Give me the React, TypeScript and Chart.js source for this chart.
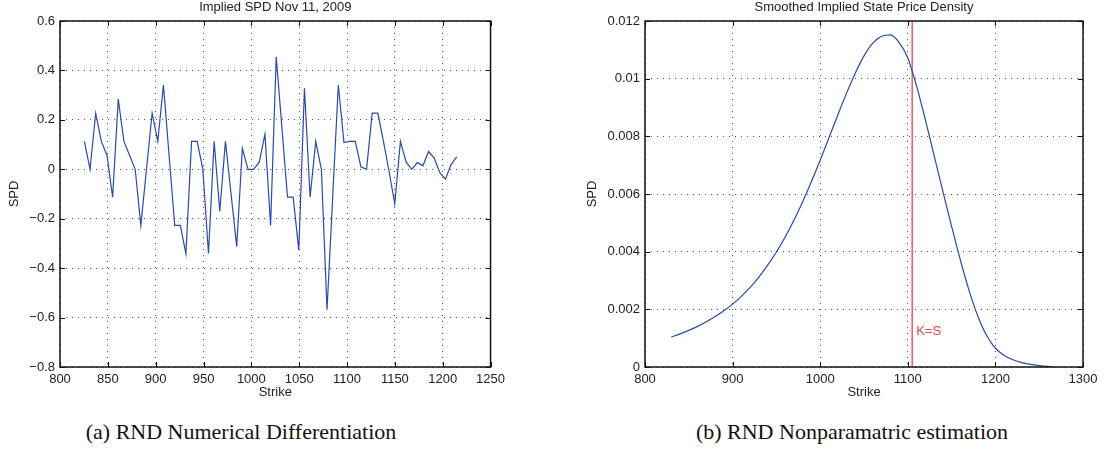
import React, { useEffect, useRef } from "react";
import { Chart, registerables } from "chart.js";

Chart.register(...registerables);

// ---------- data: left panel (numerical differentiation) ----------
const LEFT_TITLE = "Implied SPD Nov 11, 2009";
const LEFT_STRIKES = [
  825.5, 831.4, 837.3, 843.2, 849.1, 855.0, 860.9, 866.8, 872.7, 878.6,
  884.5, 890.4, 896.3, 902.2, 908.1, 914.0, 919.9, 925.8, 931.6, 937.5,
  943.4, 949.3, 955.2, 961.1, 967.0, 972.9, 978.8, 984.7, 990.6, 996.5,
  1002.4, 1008.3, 1014.2, 1020.1, 1026.0, 1031.9, 1037.8, 1043.7, 1049.6, 1055.5,
  1061.4, 1067.3, 1073.2, 1079.1, 1085.0, 1090.9, 1096.8, 1102.7, 1108.6, 1114.5,
  1120.4, 1126.3, 1132.2, 1138.1, 1144.0, 1149.9, 1155.8, 1161.7, 1167.5, 1173.4,
  1179.3, 1185.2, 1191.1, 1197.0, 1202.9, 1208.8, 1214.7,
];
const LEFT_SPD = [
  0.113, 0, 0.227, 0.113, 0.057, -0.113, 0.284, 0.113, 0.057, 0,
  -0.227, 0, 0.227, 0.113, 0.341, 0.057, -0.227, -0.227, -0.341, 0.113,
  0.113, 0, -0.341, 0.113, -0.17, 0.113, -0.1, -0.313, 0.085, 0,
  0, 0.03, 0.142, -0.227, 0.455, 0.17, -0.113, -0.113, -0.327, 0.328,
  -0.113, 0.113, 0, -0.568, -0.113, 0.341, 0.108, 0.113, 0.113, 0.01,
  0, 0.227, 0.227, 0.113, -0.01, -0.14, 0.113, 0.03, 0, 0.027,
  0.014, 0.072, 0.045, -0.014, -0.04, 0.02, 0.05,
];
const LEFT_X_RANGE = [800, 1250];
const LEFT_X_STEP = 50;
const LEFT_Y_RANGE = [-0.8, 0.6];
const LEFT_Y_STEP = 0.2;

// ---------- data: right panel (smoothed SPD) ----------
const RIGHT_TITLE = "Smoothed Implied State Price Density";
const RIGHT_STRIKES = [
  830, 840, 850, 860, 870, 880, 890, 900, 910, 920,
  930, 940, 950, 960, 970, 980, 990, 1000, 1010, 1020,
  1030, 1040, 1050, 1060, 1070, 1080, 1090, 1100, 1110, 1120,
  1130, 1140, 1150, 1160, 1170, 1180, 1190, 1200, 1210, 1220,
  1230, 1240, 1250, 1260, 1265,
];
const RIGHT_SPD = [
  0.00104, 0.00115, 0.00127, 0.00141, 0.00157, 0.00175, 0.00195, 0.00218, 0.00245, 0.00276,
  0.00312, 0.00353, 0.00399, 0.00451, 0.00509, 0.00573, 0.00643, 0.00717, 0.00795, 0.00873,
  0.00949, 0.01019, 0.01079, 0.01123, 0.01147, 0.01152, 0.01126, 0.01072, 0.00975, 0.00858,
  0.00734, 0.0061, 0.00488, 0.00371, 0.00265, 0.00176, 0.00109, 0.00065, 0.0004, 0.00025,
  0.00015, 0.00009, 0.00005, 0.00002, 0.00001,
];
const RIGHT_X_RANGE = [800, 1300];
const RIGHT_X_STEP = 100;
const RIGHT_Y_RANGE = [0, 0.012];
const RIGHT_Y_STEP = 0.002;
const K_EQUALS_S = 1105;
const K_LABEL = "K=S";
const K_LABEL_Y = 0.00122;

const X_LABEL = "Strike";
const Y_LABEL = "SPD";
const CAPTION_A = "(a) RND Numerical Differentiation";
const CAPTION_B = "(b) RND Nonparamatric estimation";

// ---------- style ----------
const FONT = "'Liberation Sans', Arial, sans-serif";
const BLUE = "#2a4aa8";
const RED = "#e8464c";
const TEXT = "#222";

const fmt = (v: number) => {
  const r = Math.round(v * 1e6) / 1e6;
  if (r === 0) return "0";
  return (r < 0 ? "\u2212" : "") + String(Math.abs(r));
};

const framePlugin = {
  id: "matlabFrame",
  afterDraw(chart: any, _args: any, opts: any) {
    const { ctx, chartArea } = chart;
    const { left, right, top, bottom } = chartArea;
    const xs = chart.scales.x;
    const ys = chart.scales.y;
    ctx.save();
    // inward tick marks
    ctx.strokeStyle = "#111";
    ctx.lineWidth = 1;
    ctx.beginPath();
    xs.ticks.forEach((t: any) => {
      const p = Math.round(xs.getPixelForValue(t.value)) + 0.5;
      ctx.moveTo(p, bottom);
      ctx.lineTo(p, bottom - 5);
      ctx.moveTo(p, top);
      ctx.lineTo(p, top + 5);
    });
    ys.ticks.forEach((t: any) => {
      const p = Math.round(ys.getPixelForValue(t.value)) + 0.5;
      ctx.moveTo(left, p);
      ctx.lineTo(left + 5, p);
      ctx.moveTo(right, p);
      ctx.lineTo(right - 5, p);
    });
    ctx.stroke();
    // frame
    ctx.lineWidth = 1.5;
    ctx.strokeStyle = "#111";
    ctx.strokeRect(left, top, right - left, bottom - top);
    // title
    ctx.fillStyle = TEXT;
    ctx.font = `13px ${FONT}`;
    ctx.textAlign = "center";
    ctx.textBaseline = "middle";
    ctx.fillText(opts.title, (left + right) / 2, 7);
    // K=S label
    if (opts.kx !== undefined) {
      ctx.fillStyle = RED;
      ctx.textAlign = "left";
      ctx.fillText(opts.klabel, xs.getPixelForValue(opts.kx) + 4, ys.getPixelForValue(opts.ky));
    }
    ctx.restore();
  },
};

function makeConfig(
  datasets: any[],
  xr: number[],
  xstep: number,
  yr: number[],
  ystep: number,
  yAxisW: number,
  padRight: number,
  yTitlePad: number,
  pluginOpts: any
) {
  return {
    type: "line",
    data: { datasets },
    plugins: [framePlugin],
    options: {
      responsive: false,
      animation: false,
      devicePixelRatio: 1,
      layout: { autoPadding: false, padding: { top: 21, left: 0, right: padRight, bottom: 0 } },
      plugins: {
        legend: { display: false },
        tooltip: { enabled: false },
        matlabFrame: pluginOpts,
      },
      elements: { point: { radius: 0 } },
      scales: {
        x: {
          type: "linear",
          min: xr[0],
          max: xr[1],
          afterFit: (s: any) => {
            s.height = 33;
          },
          ticks: {
            stepSize: xstep,
            padding: 5,
            color: TEXT,
            font: { family: FONT, size: 13 },
            maxRotation: 0,
            callback: (v: number) => fmt(v),
          },
          grid: { color: "rgba(0,0,0,0.65)", lineWidth: 1, drawTicks: false },
          border: { display: false, dash: [1, 5] },
          title: {
            display: true,
            text: X_LABEL,
            color: TEXT,
            font: { family: FONT, size: 13 },
            padding: { top: 0, bottom: 0 },
          },
        },
        y: {
          type: "linear",
          min: yr[0],
          max: yr[1],
          afterFit: (s: any) => {
            s.width = yAxisW;
          },
          ticks: {
            stepSize: ystep,
            padding: 5,
            color: TEXT,
            font: { family: FONT, size: 13 },
            callback: (v: number) => fmt(v),
          },
          grid: { color: "rgba(0,0,0,0.65)", lineWidth: 1, drawTicks: false },
          border: { display: false, dash: [1, 5] },
          title: {
            display: true,
            text: Y_LABEL,
            color: TEXT,
            font: { family: FONT, size: 13 },
            padding: { top: yTitlePad, bottom: 0 },
          },
        },
      },
    },
  };
}

function LeftChart() {
  const ref = useRef<HTMLCanvasElement>(null);
  useEffect(() => {
    const data = LEFT_STRIKES.map((x, i) => ({ x, y: LEFT_SPD[i] }));
    const chart = new Chart(
      ref.current as HTMLCanvasElement,
      makeConfig(
        [{ data, borderColor: BLUE, borderWidth: 1.2, tension: 0, fill: false }],
        LEFT_X_RANGE,
        LEFT_X_STEP,
        LEFT_Y_RANGE,
        LEFT_Y_STEP,
        60,
        12,
        7,
        { title: LEFT_TITLE }
      ) as any
    );
    return () => chart.destroy();
  }, []);
  return (
    <canvas
      ref={ref}
      width={510}
      height={400}
      style={{ position: "absolute", left: 0, top: 0, width: 510, height: 400 }}
    />
  );
}

function RightChart() {
  const ref = useRef<HTMLCanvasElement>(null);
  useEffect(() => {
    const data = RIGHT_STRIKES.map((x, i) => ({ x, y: RIGHT_SPD[i] }));
    const kline = [
      { x: K_EQUALS_S, y: RIGHT_Y_RANGE[0] },
      { x: K_EQUALS_S, y: RIGHT_Y_RANGE[1] },
    ];
    const chart = new Chart(
      ref.current as HTMLCanvasElement,
      makeConfig(
        [
          { data, borderColor: BLUE, borderWidth: 1.2, cubicInterpolationMode: "monotone", fill: false },
          { data: kline, borderColor: RED, borderWidth: 1.3, tension: 0, fill: false },
        ],
        RIGHT_X_RANGE,
        RIGHT_X_STEP,
        RIGHT_Y_RANGE,
        RIGHT_Y_STEP,
        125,
        26,
        65,
        { title: RIGHT_TITLE, kx: K_EQUALS_S, ky: K_LABEL_Y, klabel: K_LABEL }
      ) as any
    );
    return () => chart.destroy();
  }, []);
  return (
    <canvas
      ref={ref}
      width={589}
      height={400}
      style={{ position: "absolute", left: 520, top: 0, width: 589, height: 400 }}
    />
  );
}

const captionStyle = (cx: number): React.CSSProperties => ({
  position: "absolute",
  top: 418,
  left: cx - 250,
  width: 500,
  textAlign: "center",
  fontFamily: "'Liberation Serif', 'DejaVu Serif', serif",
  fontSize: 22,
  lineHeight: "28px",
  color: "#111",
  whiteSpace: "nowrap",
});

export default function App() {
  return (
    <div
      style={{
        position: "absolute",
        left: 0,
        top: 0,
        width: 1109,
        height: 459,
        background: "#fff",
        overflow: "hidden",
      }}
    >
      <LeftChart />
      <RightChart />
      <div style={captionStyle(241)}>{CAPTION_A}</div>
      <div style={captionStyle(852)}>{CAPTION_B}</div>
    </div>
  );
}
